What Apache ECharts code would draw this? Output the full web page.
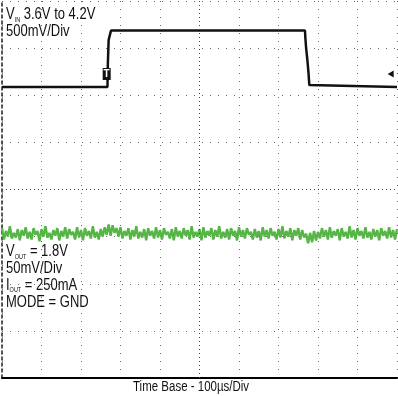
<!DOCTYPE html>
<html>
<head>
<meta charset="utf-8">
<script src="https://cdn.jsdelivr.net/npm/echarts@6/dist/echarts.min.js"></script>
<style>
html,body{margin:0;padding:0;background:#fff;}
#chart{width:398px;height:396px;}
</style>
</head>
<body>
<div id="chart"></div>
<script>
// ---- Data ----
// VIN trace: time (µs) and voltage (V), 500 mV/div
const vinTime = [0, 267, 268, 270, 276, 767, 768, 770, 773, 776, 778, 780, 1000];
const vinVolts = [3.6, 3.6, 3.85, 4.1, 4.2, 4.2, 4.12, 4.01, 3.89, 3.75, 3.62, 3.6, 3.6];

// VOUT trace: mV, sampled every 5 µs, 50 mV/div
const voutSampleStep = 5;
const voutMillivolts = [
  1806,1794,1803,1797,1808,1795,1801,1796,1805,1793,
  1804,1798,1807,1795,1802,1794,1806,1799,1803,1792,
  1805,1797,1808,1796,1801,1794,1804,1798,1806,1793,
  1803,1797,1807,1795,1805,1799,1802,1794,1807,1796,
  1804,1793,1806,1798,1803,1795,1808,1796,1802,1794,
  1805,1797,1807,1799,1810,1798,1809,1801,1806,1797,
  1807,1795,1803,1798,1806,1794,1804,1797,1808,1795,
  1802,1796,1805,1793,1806,1798,1803,1795,1807,1796,
  1804,1794,1806,1799,1802,1795,1805,1793,1807,1797,
  1803,1795,1806,1798,1804,1794,1808,1796,1802,1797,
  1805,1793,1807,1796,1803,1798,1806,1794,1804,1797,
  1808,1795,1802,1796,1805,1794,1806,1798,1803,1793,
  1807,1797,1804,1795,1806,1799,1802,1794,1805,1796,
  1803,1793,1807,1797,1804,1795,1806,1798,1802,1794,
  1805,1796,1808,1795,1803,1797,1806,1793,1804,1798,
  1806,1794,1804,1796,1800,1790,1801,1791,1803,1793,
  1802,1795,1806,1797,1804,1794,1807,1796,1803,1798,
  1805,1793,1806,1797,1802,1795,1808,1796,1804,1794,
  1806,1798,1803,1795,1807,1796,1802,1794,1805,1797,
  1804,1793,1806,1798,1803,1795,1807,1796,1804,1794,1805
];

// Markers
const triggerTime = 265;      // µs, "T" marker
const triggerLevelV = 3.738;  // V, level arrow
const levelArrowTime = 984;   // µs

// Axis ranges
const timeMin = 0, timeMax = 1000, timeDiv = 100;
const divMin = 0, divMax = 8;
const vinAxisMin = 0.5125, vinAxisMax = 4.5125;
const voutAxisMin = 1647, voutAxisMax = 2047;

// Texts
const vinLabel = '{a|V}{s|IN}{a| 3.6V to 4.2V}\n{a|500mV/Div}';
const voutLabel = '{a|V}{s|OUT}{a| = 1.8V}\n{a|50mV/Div}\n{a|I}{s|OUT}{a| = 250mA}\n{a|MODE = GND}';
const timeBaseLabel = 'Time Base - 100µs/Div';

const FONT = '"Liberation Sans", Arial, sans-serif';

const vinData = vinTime.map((t, i) => [t, vinVolts[i]]);
const voutData = voutMillivolts.map((v, i) => [i * voutSampleStep, v]);

const gridDots = { show: true, lineStyle: { color: '#666', width: 1, type: [1, 7] } };
const richStyles = {
  a: { fontFamily: FONT, fontSize: 13, lineHeight: 14, fill: '#111', fontWeight: 'normal' },
  s: { fontFamily: FONT, fontSize: 5.5, lineHeight: 7, fill: '#111', fontWeight: 'normal', verticalAlign: 'bottom' }
};

const chart = echarts.init(document.getElementById('chart'), null, { renderer: 'canvas' });
chart.setOption({
  animation: false,
  backgroundColor: '#fff',
  graphic: [
    {
      type: 'text', x: 6, y: 6.5, scaleY: 1.2, silent: true,
      style: { text: vinLabel, rich: richStyles, verticalAlign: 'top', align: 'left' }
    },
    {
      type: 'text', x: 6, y: 243.5, scaleY: 1.2, silent: true,
      style: { text: voutLabel, rich: richStyles, verticalAlign: 'top', align: 'left' }
    },
    {
      type: 'text', x: 133, y: 379.5, scaleY: 1.22, silent: true,
      style: { text: timeBaseLabel, fontFamily: FONT, fontSize: 11.5, lineHeight: 13, fill: '#111', verticalAlign: 'top', align: 'left' }
    }
  ],
  grid: { left: 2, right: 1, top: 1, bottom: 18 },
  xAxis: {
    type: 'value', min: timeMin, max: timeMax, interval: timeDiv,
    axisLabel: { show: false }, axisTick: { show: false },
    axisLine: { show: true, onZero: false, lineStyle: { color: '#000', width: 2 } },
    splitLine: gridDots
  },
  yAxis: [
    {
      type: 'value', min: divMin, max: divMax, interval: 1,
      axisLabel: { show: false }, axisTick: { show: false },
      axisLine: { show: true, onZero: false, lineStyle: { color: '#222', width: 1.5, type: [3, 3] } },
      splitLine: gridDots
    },
    { type: 'value', min: vinAxisMin, max: vinAxisMax, show: false, splitLine: { show: false } },
    { type: 'value', min: voutAxisMin, max: voutAxisMax, show: false, splitLine: { show: false } }
  ],
  series: [
    {
      type: 'line', yAxisIndex: 0, data: [], silent: true,
      markLine: {
        silent: true, symbol: 'none', label: { show: false },
        lineStyle: { color: '#444', width: 1, type: [1, 3] },
        data: [{ xAxis: 500 }, { yAxis: 4 }]
      }
    },
    {
      name: 'VOUT', type: 'line', yAxisIndex: 2, data: voutData,
      showSymbol: false, symbol: 'none',
      lineStyle: { color: '#55b646', width: 2.4 }
    },
    {
      name: 'VIN', type: 'line', yAxisIndex: 1, data: vinData,
      showSymbol: false, symbol: 'none',
      lineStyle: { color: '#111', width: 2.5 },
      markPoint: {
        silent: true,
        data: [
          {
            coord: [triggerTime, triggerLevelV], symbol: 'rect', symbolSize: [8, 12],
            itemStyle: { color: '#111' },
            label: { show: true, formatter: 'T', color: '#fff', fontSize: 10, fontWeight: 'bold', fontFamily: FONT }
          },
          {
            coord: [levelArrowTime, triggerLevelV], symbol: 'triangle', symbolSize: [7, 6], symbolRotate: 90,
            itemStyle: { color: '#111' }, label: { show: false }
          }
        ]
      }
    }
  ]
});
</script>
</body>
</html>
